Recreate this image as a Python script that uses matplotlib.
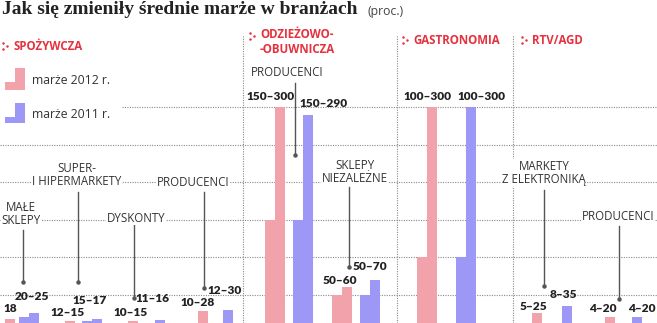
import numpy as np
import matplotlib
matplotlib.use("Agg")
import matplotlib.pyplot as plt
from matplotlib.patches import Rectangle

W, H = 657, 323

# data (proc.)
names = ['MAŁE\nSKLEPY', 'SUPER-\nI HIPERMARKETY', 'DYSKONTY', 'PRODUCENCI',
         'PRODUCENCI', 'SKLEPY\nNIEZALEŻNE', '', 'MARKETY\nZ ELEKTRONIKĄ', 'PRODUCENCI']
m2012_lo = [np.nan, 12, 10, 10, 150, 50, 100, 5, 4]   # 18 = single value
m2012_hi = [18, 15, 15, 28, 300, 60, 300, 25, 20]
m2011_lo = [20, 15, 11, 12, 150, 50, 100, 8, 4]
m2011_hi = [25, 17, 16, 30, 290, 70, 300, 35, 20]
lab2012 = ['18', '12–15', '10–15', '10–28', '150–300', '50–60', '100–300', '5–25', '4–20']
lab2011 = ['20–25', '15–17', '11–16', '12–30', '150–290', '50–70', '100–300', '8–35', '4–20']
sectors = ['SPOŻYWCZA', 'ODZIEŻOWO-\n-OBUWNICZA', 'GASTRONOMIA', 'RTV/AGD']

# layout (pixels)
x2012 = [-5, 55, 118, 188, 265, 332, 417, 522, 595]
x2011 = [19, 82, 145, 213, 293, 360, 456, 552, 622]
bw = 10
name_pos = [(21, 214), (77, 175), (136, 218), (193, 183), (287, 73),
            (355, 172), (0, 0), (544, 173), (618, 217)]
leaders = [(23, 230, 282), (78, 192, 282), (134, 225, 298), (204, 192, 288),
           (295, 83, 155), (349, 187, 267), None, (544, 190, 286), (619, 226, 299)]
vpos2012 = [(10, 308), (68, 313), (131, 312), (198, 303), (271, 96),
            (340, 280), (427, 96), (533, 307), (603, 308)]
vpos2011 = [(32, 297), (90, 300), (152, 298), (225, 291), (324, 104),
            (370, 266), (481, 96), (563, 295), (642, 308)]
sector_pos = [(13, 46), (260, 42), (413, 40), (532, 40)]
seps = [243, 397, 513]

pink = '#f2a2aa'
blue = '#9d97f6'
red = '#e5323f'
dark = '#333333'


def v(py):
    return (332 - py) / 0.75


def fx(x):
    return x / W


def fy(y):
    return 1 - y / H


fig = plt.figure(figsize=(W / 100, H / 100), dpi=100)
ax = fig.add_axes([0, 0, 1, 1])
ax.set_xlim(0, W)
ax.set_ylim(v(H), v(0))
ax.axis('off')

# grid
for g in range(50, 301, 50):
    x0 = 122 if g == 300 else 0
    ax.plot([x0, W], [g, g], color='#8a8a8a', lw=0.8, ls=(0, (1, 1.2)), zorder=0)
for s in seps:
    ax.plot([s, s], [v(H), v(35)], color='#8a8a8a', lw=0.8, ls=(0, (1, 1.2)), zorder=0)

# bars: left = lower bound, right = upper bound
ax.bar(x2012, m2012_lo, width=bw, align='edge', color=pink, zorder=2)
ax.bar(np.array(x2012) + bw, m2012_hi, width=bw, align='edge', color=pink, zorder=2)
ax.bar(x2011, m2011_lo, width=bw, align='edge', color=blue, zorder=2)
ax.bar(np.array(x2011) + bw, m2011_hi, width=bw, align='edge', color=blue, zorder=2)

vfont = dict(fontfamily='Lato', fontweight='heavy', fontsize=8.6, color='#222222',
             ha='center', va='center')
for i in range(len(names)):
    fig.text(fx(vpos2012[i][0]), fy(vpos2012[i][1]), lab2012[i], **vfont)
    fig.text(fx(vpos2011[i][0]), fy(vpos2011[i][1]), lab2011[i], **vfont)
    if names[i]:
        fig.text(fx(name_pos[i][0]), fy(name_pos[i][1]), names[i], fontfamily='Open Sans',
                 fontsize=8.3, color=dark, ha='center', va='center', linespacing=1.0,
                 bbox=dict(facecolor='white', edgecolor='none', pad=0.5), zorder=5)
    if leaders[i]:
        lx, t, b = leaders[i]
        ax.plot([lx, lx], [v(t), v(b)], color='#555555', lw=1, zorder=3)
        ax.plot([lx], [v(b)], 'o', ms=2.2, color='#555555', zorder=3)

# sector headers with dotted chevron
for (sx, sy), s in zip(sector_pos, sectors):
    fig.text(fx(sx), fy(sy), s, fontfamily='Open Sans', fontweight='bold', fontsize=8.3,
             color=red, ha='left', va='center', linespacing=1.2)
    iy = sy - 6 if '\n' in s else sy
    ax.plot([sx - 10, sx - 10, sx - 6], [v(iy - 3), v(iy + 3), v(iy)], 'o',
            ms=1.8, color=red, mew=0)

# legend
for (top, short, col, txt) in [(68, 82, pink, 'marże 2012 r.'), (103, 117, blue, 'marże 2011 r.')]:
    bot = top + 22 if col == pink else top + 20
    ax.add_patch(Rectangle((15, v(bot)), 10, v(top) - v(bot), color=col, lw=0))
    ax.add_patch(Rectangle((5, v(bot)), 10, v(short) - v(bot), color=col, lw=0))
    fig.text(fx(32), fy((top + bot) / 2 + 2), txt, fontfamily='Open Sans', fontsize=8.8,
             color=dark, ha='left', va='center')

# title
fig.text(fx(2), fy(10), 'Jak się zmieniły średnie marże w branżach', fontfamily='Liberation Serif',
         fontweight='bold', fontsize=14, color='#222222', ha='left', va='center')
fig.text(fx(367), fy(11), '(proc.)', fontfamily='Open Sans', fontsize=8.8,
         color='#444444', ha='left', va='center')

fig.savefig('out.png', dpi=100, facecolor='white')
